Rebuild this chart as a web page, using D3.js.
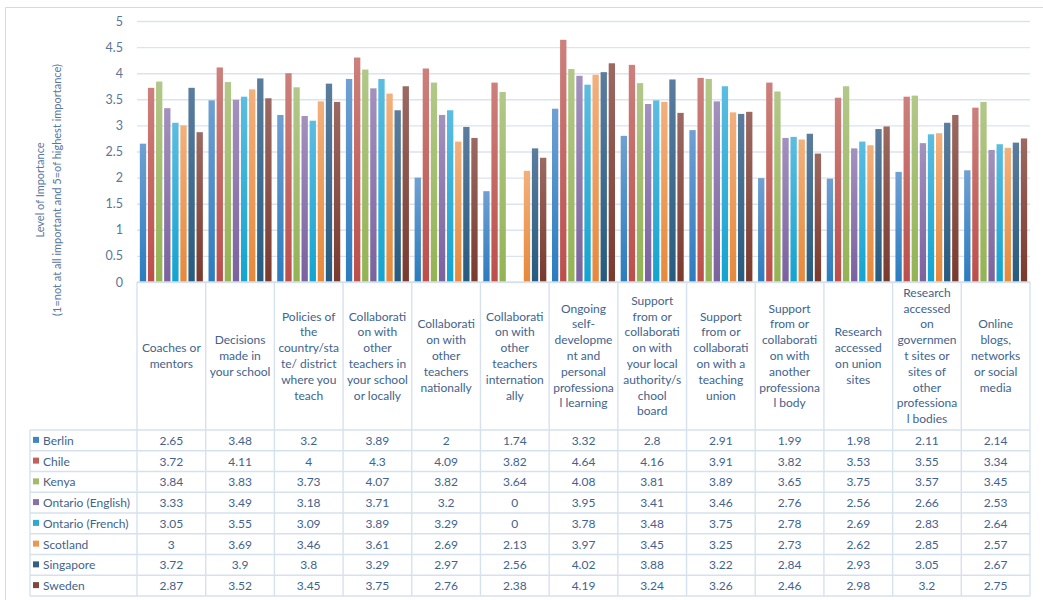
<!DOCTYPE html>
<html>
<head>
<meta charset="utf-8">
<script src="https://cdn.jsdelivr.net/npm/d3@7"></script>
<style>
  body { margin: 0; background: #fff; }
  text { font-family: Lato, "Liberation Sans", sans-serif; }
</style>
</head>
<body>
<div id="chart"></div>
<script>
// category labels, already broken the way the sheet wraps them
const categories = [
  ["Coaches or", "mentors"],
  ["Decisions", "made in", "your school"],
  ["Policies of", "the", "country/sta", "te/ district", "where you", "teach"],
  ["Collaborati", "on with", "other", "teachers in", "your school", "or locally"],
  ["Collaborati", "on with", "other", "teachers", "nationally"],
  ["Collaborati", "on with", "other", "teachers", "internation", "ally"],
  ["Ongoing", "self-", "developme", "nt and", "personal", "professiona", "l learning"],
  ["Support", "from or", "collaborati", "on with", "your local", "authority/s", "chool", "board"],
  ["Support", "from or", "collaborati", "on with a", "teaching", "union"],
  ["Support", "from or", "collaborati", "on with", "another", "professiona", "l body"],
  ["Research", "accessed", "on union", "sites"],
  ["Research", "accessed", "on", "governmen", "t sites or", "sites of", "other", "professiona", "l bodies"],
  ["Online", "blogs,", "networks", "or social", "media"]
];

const countries = ["Berlin", "Chile", "Kenya", "Ontario (English)", "Ontario (French)", "Scotland", "Singapore", "Sweden"];

const berlin    = [2.65, 3.48, 3.2, 3.89, 2, 1.74, 3.32, 2.8, 2.91, 1.99, 1.98, 2.11, 2.14];
const chile     = [3.72, 4.11, 4, 4.3, 4.09, 3.82, 4.64, 4.16, 3.91, 3.82, 3.53, 3.55, 3.34];
const kenya     = [3.84, 3.83, 3.73, 4.07, 3.82, 3.64, 4.08, 3.81, 3.89, 3.65, 3.75, 3.57, 3.45];
const ontarioEn = [3.33, 3.49, 3.18, 3.71, 3.2, 0, 3.95, 3.41, 3.46, 2.76, 2.56, 2.66, 2.53];
const ontarioFr = [3.05, 3.55, 3.09, 3.89, 3.29, 0, 3.78, 3.48, 3.75, 2.78, 2.69, 2.83, 2.64];
const scotland  = [3, 3.69, 3.46, 3.61, 2.69, 2.13, 3.97, 3.45, 3.25, 2.73, 2.62, 2.85, 2.57];
const singapore = [3.72, 3.9, 3.8, 3.29, 2.97, 2.56, 4.02, 3.88, 3.22, 2.84, 2.93, 3.05, 2.67];
const sweden    = [2.87, 3.52, 3.45, 3.75, 2.76, 2.38, 4.19, 3.24, 3.26, 2.46, 2.98, 3.2, 2.75];

const yTicks = [0, 0.5, 1, 1.5, 2, 2.5, 3, 3.5, 4, 4.5, 5];

// top / bottom colour of each series gradient
const topColors    = ["#6fa0d3", "#cd807c", "#b2c889", "#a391be", "#5cbde0", "#f3b07c", "#5b7d9e", "#9b6a62"];
const bottomColors = ["#2b7cbf", "#bd4e4a", "#93b353", "#7a629e", "#12a4d0", "#e6893b", "#265b80", "#7a3a2e"];
const keyColors    = ["#3f84c6", "#c4605c", "#9fbc66", "#8771a8", "#2aabd6", "#ec9650", "#335f84", "#82463c"];

const series = [berlin, chile, kenya, ontarioEn, ontarioFr, scotland, singapore, sweden]
  .map((v, i) => ({ name: countries[i], values: v }));

const width = 1043, height = 600;
const plotLeft = 137, plotRight = 1030, plotTop = 21, plotBottom = 282;
const headBottom = 430, rowH = 20.75, tableLeft = 30;
const textColor = "#41638e", lineColor = "#d6e1ee";

const svg = d3.select("#chart").append("svg")
  .attr("width", width)
  .attr("height", height);

const defs = svg.append("defs");
series.forEach((s, i) => {
  const g = defs.append("linearGradient")
    .attr("id", "grad" + i)
    .attr("x1", 0).attr("y1", 0).attr("x2", 0).attr("y2", 1);
  g.append("stop").attr("offset", "0%").attr("stop-color", topColors[i]);
  g.append("stop").attr("offset", "100%").attr("stop-color", bottomColors[i]);
});

// outer frame
svg.append("path")
  .attr("d", "M5.5," + height + "V7.5H" + width)
  .attr("fill", "none")
  .attr("stroke", "#d9d9d9");

const x0 = d3.scaleBand()
  .domain(d3.range(categories.length))
  .range([plotLeft, plotRight])
  .padding(0);

const x1 = d3.scaleBand()
  .domain(d3.range(series.length))
  .range([0, x0.bandwidth()])
  .paddingInner(0.22)
  .paddingOuter(0.35);

const y = d3.scaleLinear().domain([0, 5]).range([plotBottom, plotTop]);

// gridlines + tick labels
const yAxis = svg.append("g")
  .attr("transform", "translate(" + plotLeft + ",0)")
  .call(d3.axisLeft(y)
    .tickValues(yTicks)
    .tickSize(-(plotRight - plotLeft))
    .tickPadding(14)
    .tickFormat(d => String(d)));
yAxis.select(".domain").remove();
yAxis.selectAll(".tick line")
  .attr("stroke", "#dae3ef")
  .attr("stroke-width", 1.4);
yAxis.selectAll(".tick text")
  .attr("fill", "#5b7698")
  .attr("font-size", 12.5);

// axis title
const title = svg.append("text")
  .attr("transform", "translate(0,190) rotate(-90)")
  .attr("text-anchor", "middle")
  .attr("fill", "#5577a0")
  .attr("font-size", 11);
title.append("tspan").attr("x", 0).attr("y", 44).text("Level of Importance");
title.append("tspan").attr("x", 0).attr("y", 61).text("(1=not at all important and 5=of highest importance)");

// bars
const groups = svg.append("g").selectAll("g")
  .data(categories)
  .join("g")
  .attr("transform", (d, i) => "translate(" + x0(i) + ",0)");

groups.selectAll("rect")
  .data((d, ci) => series.map((s, si) => ({ si: si, v: s.values[ci] })))
  .join("rect")
  .attr("x", d => x1(d.si))
  .attr("width", x1.bandwidth())
  .attr("y", d => y(d.v))
  .attr("height", d => plotBottom - y(d.v))
  .attr("fill", d => "url(#grad" + d.si + ")");

// data table
const table = svg.append("g");
const tableBottom = headBottom + rowH * series.length;

// horizontal rules
table.append("line")
  .attr("x1", plotLeft).attr("x2", plotRight)
  .attr("y1", plotBottom).attr("y2", plotBottom)
  .attr("stroke", lineColor).attr("stroke-width", 1.6);
table.selectAll("line.row")
  .data(d3.range(series.length + 1))
  .join("line")
  .attr("class", "row")
  .attr("x1", tableLeft).attr("x2", plotRight)
  .attr("y1", i => headBottom + i * rowH)
  .attr("y2", i => headBottom + i * rowH)
  .attr("stroke", lineColor).attr("stroke-width", 1.4);

// vertical rules
table.selectAll("line.col")
  .data(d3.range(categories.length + 1))
  .join("line")
  .attr("class", "col")
  .attr("x1", i => plotLeft + i * x0.step())
  .attr("x2", i => plotLeft + i * x0.step())
  .attr("y1", plotBottom).attr("y2", tableBottom)
  .attr("stroke", lineColor).attr("stroke-width", 1.4);
table.append("line")
  .attr("x1", tableLeft).attr("x2", tableLeft)
  .attr("y1", headBottom).attr("y2", tableBottom)
  .attr("stroke", lineColor).attr("stroke-width", 1.4);

// header labels
const lineH = 15.8;
const headMid = (plotBottom + headBottom) / 2;
categories.forEach((lines, ci) => {
  const t = table.append("text")
    .attr("text-anchor", "middle")
    .attr("fill", textColor)
    .attr("font-size", 12);
  lines.forEach((ln, li) => {
    t.append("tspan")
      .attr("x", x0(ci) + x0.bandwidth() / 2)
      .attr("y", headMid + (li - (lines.length - 1) / 2) * lineH + 4)
      .text(ln);
  });
});

// rows
series.forEach((s, si) => {
  const cy = headBottom + si * rowH + rowH / 2;
  table.append("rect")
    .attr("x", 33).attr("y", cy - 3.5)
    .attr("width", 6).attr("height", 6)
    .attr("fill", keyColors[si]);
  table.append("text")
    .attr("x", 43).attr("y", cy + 4.5)
    .attr("fill", textColor)
    .attr("font-size", 12)
    .text(s.name);
  table.selectAll(null)
    .data(s.values)
    .join("text")
    .attr("x", (d, ci) => x0(ci) + x0.bandwidth() / 2)
    .attr("y", cy + 4.5)
    .attr("text-anchor", "middle")
    .attr("fill", textColor)
    .attr("font-size", 12)
    .text(d => String(d));
});
</script>
</body>
</html>
